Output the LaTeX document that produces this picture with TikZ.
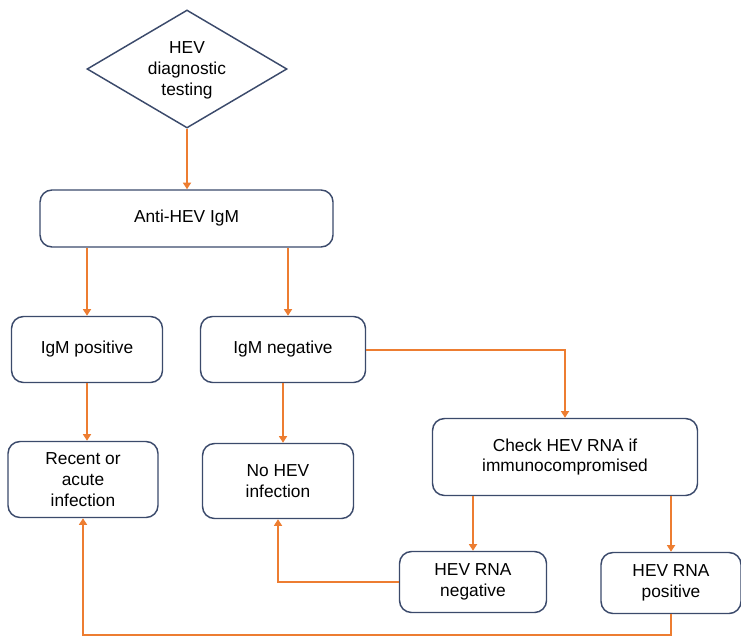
\documentclass[tikz,border=0pt]{standalone}
\usepackage{fontspec}
\setmainfont{Liberation Sans}
\usetikzlibrary{shapes.geometric,arrows.meta}
\definecolor{boxline}{RGB}{59,74,107}
\definecolor{arrowline}{RGB}{237,125,49}
\begin{document}
\begin{tikzpicture}[x=0.75pt,y=-0.75pt,
    box/.style={draw=boxline,line width=1.1pt,rounded corners=9pt,align=center,
      font=\fontsize{13}{15.5}\selectfont,inner sep=2pt},
    flow/.style={draw=arrowline,line width=1.5pt,-{Triangle[width=6pt,length=5pt]}}]
  \useasboundingbox (0,0) rectangle (741,641);
  % start
  \node[diamond,draw=boxline,line width=1.1pt,minimum width=150pt,minimum height=88.5pt,inner sep=0pt](start) at (187,69){};
  \node[align=center,font=\fontsize{13}{15.5}\selectfont](starttext) at ([yshift=-1pt]start){HEV\\diagnostic\\testing};
  % first test
  \node[box,minimum width=219.75pt,minimum height=42.75pt](anti) at (186.5,218.5){Anti-HEV IgM};
  \node[box,minimum width=113.25pt,minimum height=49.5pt](pos) at (87,349.5){IgM positive};
  \node[box,minimum width=123.75pt,minimum height=49.5pt](neg) at (283,349.5){IgM negative};
  % results
  \node[box,minimum width=112.5pt,minimum height=57pt](recent) at (83,479.5){Recent or\\acute\\infection};
  \node[box,minimum width=113.25pt,minimum height=56.25pt](nohev) at (278,481){No HEV\\infection};
  \node[box,minimum width=198.75pt,minimum height=57.75pt](check) at (565,457){Check HEV RNA if\\immunocompromised};
  \node[box,minimum width=110.25pt,minimum height=45.75pt](rnaneg) at (473,582){HEV RNA\\negative};
  \node[box,minimum width=105pt,minimum height=45.75pt](rnapos) at (671,583){HEV RNA\\positive};
  \coordinate (loop) at (83,635);
  % arrows
  \draw[flow] (start.south) -- (start.south |- anti.north);
  \draw[flow] (anti.south -| pos.north) -- (pos.north);
  \draw[flow] ([xshift=3.75pt]anti.south -| neg.north) -- ([xshift=3.75pt]neg.north);
  \draw[flow] (pos.south) -- (pos.south |- recent.north);
  \draw[flow] (neg.south) -- (neg.south |- nohev.north);
  \draw[flow] (neg.east) -| (check.north);
  \draw[flow] (check.south -| rnaneg.north) -- (rnaneg.north);
  \draw[flow] (check.south -| rnapos.north) -- (rnapos.north);
  \draw[flow] (rnaneg.west) -| (nohev.south);
  \draw[flow] (rnapos.south) |- (loop) -- (recent.south);
\end{tikzpicture}
\end{document}
